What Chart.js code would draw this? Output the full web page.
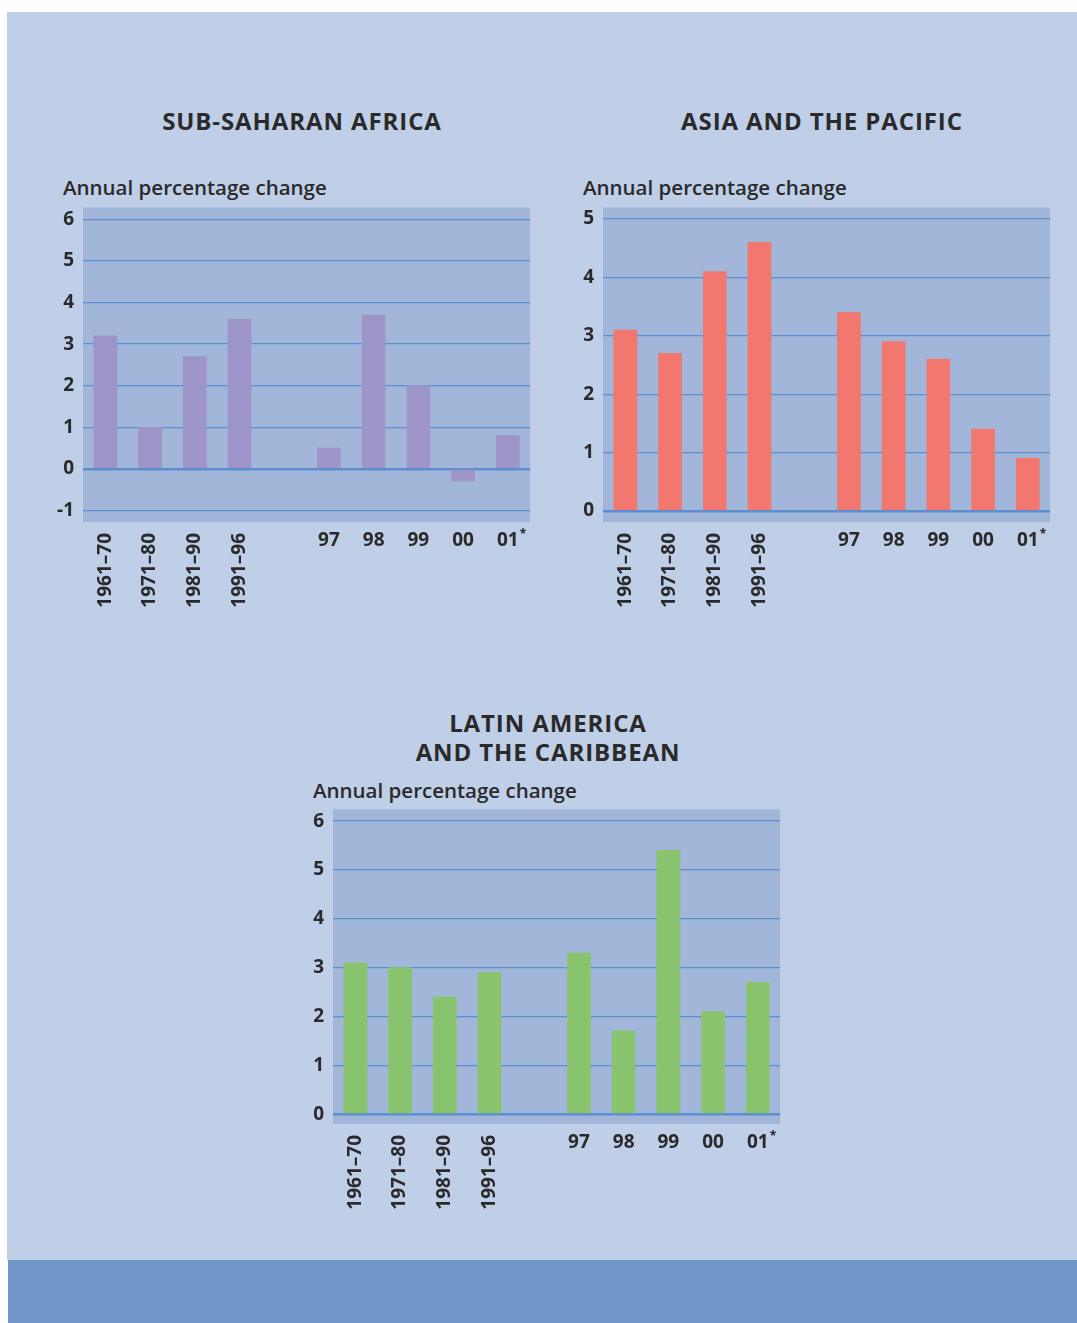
<!DOCTYPE html>
<html>
<head>
<meta charset="utf-8">
<script src="https://cdn.jsdelivr.net/npm/chart.js@4.4.1/dist/chart.umd.min.js"></script>
<style>
  html, body { margin: 0; padding: 0; background: #ffffff; }
  body { width: 1077px; height: 1323px; position: relative; overflow: hidden; font-family: "Open Sans", "DejaVu Sans", sans-serif; color: #2a2a2a; }
  .panel { position: absolute; left: 7px; top: 12px; width: 1070px; height: 1248px; background: #c0cfe8; }
  .band { position: absolute; left: 8px; top: 1260px; width: 1069px; height: 63px; background: #7096c8; }
  .title { position: absolute; font-weight: 700; font-size: 24px; line-height: 29px; text-align: center; letter-spacing: 0.9px; }
  .unit { position: absolute; font-weight: 600; font-size: 20.5px; line-height: 24px; }
  .box { position: absolute; width: 502px; height: 434px; }
</style>
</head>
<body>
<div class="panel"></div>
<div class="band"></div>

<div class="title" style="left:102px; top:106px; width:400px;">SUB-SAHARAN AFRICA</div>
<div class="title" style="left:622px; top:106px; width:400px;">ASIA AND THE PACIFIC</div>
<div class="title" style="left:348px; top:708px; width:400px;">LATIN AMERICA<br>AND THE CARIBBEAN</div>

<div class="unit" style="left:63px; top:175px;">Annual percentage change</div>
<div class="unit" style="left:583px; top:175px;">Annual percentage change</div>
<div class="unit" style="left:313px; top:778px;">Annual percentage change</div>

<div class="box" style="left:40px; top:187px;"><canvas id="africa-chart"></canvas></div>
<div class="box" style="left:560px; top:187px;"><canvas id="asia-chart"></canvas></div>
<div class="box" style="left:290px; top:789px;"><canvas id="latin-chart"></canvas></div>

<script>
// decade averages, then a blank slot, then single years
const decadeLabels = ["1961–70", "1971–80", "1981–90", "1991–96"];
const yearLabels = ["97", "98", "99", "00", "01*"];
const categories = [...decadeLabels, "", ...yearLabels];

const africaValues = [3.2, 1.0, 2.7, 3.6, null, 0.5, 3.7, 2.0, -0.3, 0.8];
const asiaValues = [3.1, 2.7, 4.1, 4.6, null, 3.4, 2.9, 2.6, 1.4, 0.9];
const latinValues = [3.1, 3.0, 2.4, 2.9, null, 3.3, 1.7, 5.4, 2.1, 2.7];

const africaTicks = [-1, 0, 1, 2, 3, 4, 5, 6];
const asiaTicks = [0, 1, 2, 3, 4, 5];
const latinTicks = [0, 1, 2, 3, 4, 5, 6];

const TEXT = "#2a2a2a";
const PLOT_BG = "#a1b6d9";
const GRID = "#5d8ed3";
const FONT = "'Open Sans', 'DejaVu Sans', sans-serif";

// fills the chart area with the darker blue plate
const plotBackground = {
  id: "plotBackground",
  beforeDraw(chart) {
    const { ctx, chartArea: a } = chart;
    ctx.save();
    ctx.fillStyle = PLOT_BG;
    ctx.fillRect(a.left, a.top, a.right - a.left, a.bottom - a.top);
    ctx.restore();
  },
};

// year labels sit horizontally while the decade labels are rotated
const yearTickLabels = {
  id: "yearTickLabels",
  afterDraw(chart) {
    const { ctx } = chart;
    const x = chart.scales.x;
    ctx.save();
    ctx.fillStyle = TEXT;
    ctx.textBaseline = "middle";
    yearLabels.forEach((label, i) => {
      const px = x.getPixelForValue(decadeLabels.length + 1 + i);
      const py = x.top + 19;
      const star = label.endsWith("*");
      const text = star ? label.slice(0, -1) : label;
      ctx.font = `700 19px ${FONT}`;
      ctx.textAlign = "center";
      ctx.fillText(text, px, py);
      if (star) {
        const w = ctx.measureText(text).width;
        ctx.font = `700 12px ${FONT}`;
        ctx.textAlign = "left";
        ctx.fillText("*", px + w / 2 + 1, py - 6);
      }
    });
    ctx.restore();
  },
};

function makeChart(id, values, color, yTicks, yMin, yMax) {
  return new Chart(document.getElementById(id), {
    type: "bar",
    data: {
      labels: categories,
      datasets: [{ data: values, backgroundColor: color, barThickness: 23, borderWidth: 0 }],
    },
    options: {
      responsive: true,
      maintainAspectRatio: false,
      animation: false,
      layout: { padding: { top: 7, right: 8, left: 0, bottom: 0 } },
      plugins: { legend: { display: false }, tooltip: { enabled: false } },
      scales: {
        x: {
          grid: { display: false, drawTicks: false },
          border: { display: false },
          ticks: {
            minRotation: 90,
            maxRotation: 90,
            autoSkip: false,
            padding: 11,
            color: TEXT,
            font: { family: FONT, size: 19, weight: "700" },
            callback: (v, i) => (i < decadeLabels.length ? categories[i] : ""),
          },
          afterFit: (scale) => { scale.height = 99; },
        },
        y: {
          min: yMin,
          max: yMax,
          afterBuildTicks: (axis) => { axis.ticks = yTicks.map((v) => ({ value: v })); },
          grid: {
            color: GRID,
            lineWidth: (c) => (c.tick && c.tick.value === 0 ? 2.5 : 1.3),
            drawTicks: false,
          },
          border: { display: false },
          ticks: {
            padding: 9,
            color: TEXT,
            font: { family: FONT, size: 19, weight: "700" },
          },
          afterFit: (scale) => { scale.width = 43; },
        },
      },
    },
    plugins: [plotBackground, yearTickLabels],
  });
}

makeChart("africa-chart", africaValues, "#9d95c8", africaTicks, -1.28, 6.29);
makeChart("asia-chart", asiaValues, "#f2776e", asiaTicks, -0.19, 5.2);
makeChart("latin-chart", latinValues, "#88c46d", latinTicks, -0.2, 6.24);
</script>
</body>
</html>
